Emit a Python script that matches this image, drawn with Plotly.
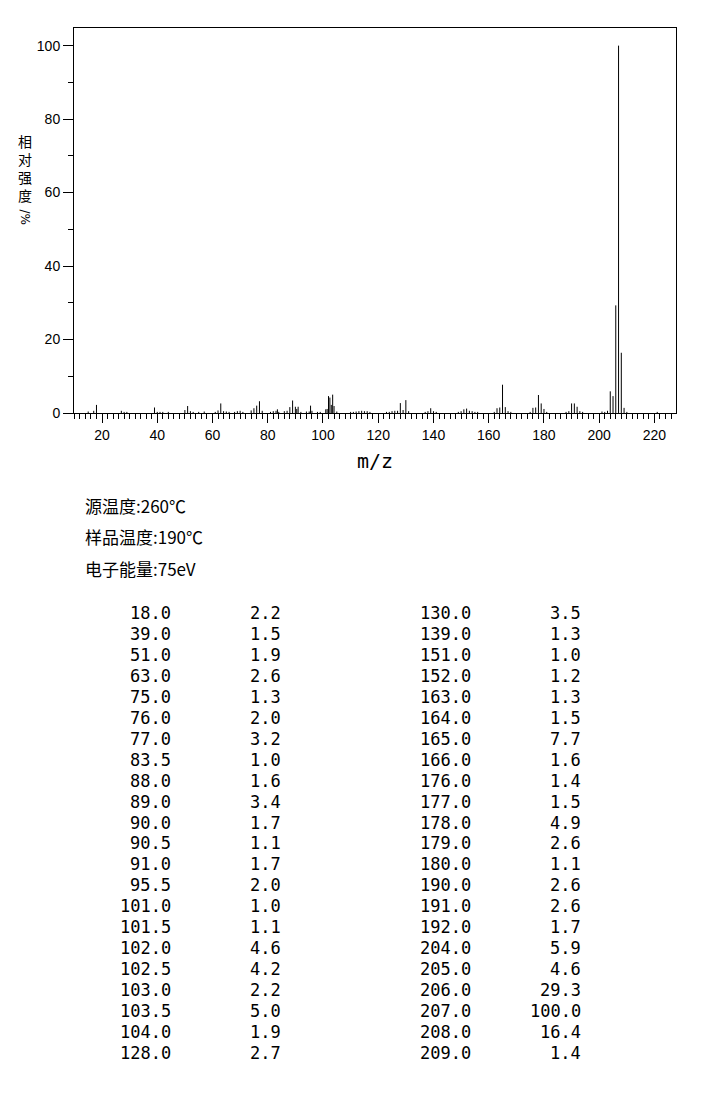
import plotly.graph_objects as go

# peaks listed in the table (m/z, relative intensity %)
table_mz = [18.0, 39.0, 51.0, 63.0, 75.0, 76.0, 77.0, 83.5, 88.0, 89.0, 90.0,
            90.5, 91.0, 95.5, 101.0, 101.5, 102.0, 102.5, 103.0, 103.5, 104.0, 128.0,
            130.0, 139.0, 151.0, 152.0, 163.0, 164.0, 165.0, 166.0, 176.0, 177.0, 178.0,
            179.0, 180.0, 190.0, 191.0, 192.0, 204.0, 205.0, 206.0, 207.0, 208.0, 209.0]
table_int = [2.2, 1.5, 1.9, 2.6, 1.3, 2.0, 3.2, 1.0, 1.6, 3.4, 1.7,
             1.1, 1.7, 2.0, 1.0, 1.1, 4.6, 4.2, 2.2, 5.0, 1.9, 2.7,
             3.5, 1.3, 1.0, 1.2, 1.3, 1.5, 7.7, 1.6, 1.4, 1.5, 4.9,
             2.6, 1.1, 2.6, 2.6, 1.7, 5.9, 4.6, 29.3, 100.0, 16.4, 1.4]

# small peaks (< 1 %)
minor_mz = [15, 17, 27, 28, 29, 40, 41, 42, 44, 50, 52, 53, 55, 57, 61, 62, 64, 65,
            66, 68, 69, 70, 71, 74, 78, 81, 82, 83, 84, 86, 87, 92, 94, 95, 96, 98,
            99, 105, 110, 111, 112, 113, 114, 115, 116, 117, 123, 124, 125, 126, 127,
            129, 131, 137, 138, 140, 141, 149, 150, 153, 154, 155, 156, 162, 167, 168,
            175, 181, 188, 189, 193, 194, 201, 202, 203, 210, 221]
minor_int = [0.4, 0.6, 0.6, 0.3, 0.3, 0.3, 0.3, 0.3, 0.3, 0.8, 0.5, 0.3, 0.3, 0.4, 0.3, 0.7, 0.5, 0.4,
             0.3, 0.3, 0.5, 0.6, 0.3, 0.7, 0.6, 0.3, 0.5, 0.6, 0.3, 0.5, 0.6, 0.3, 0.4, 0.4, 0.6, 0.3,
             0.3, 0.4, 0.3, 0.3, 0.4, 0.5, 0.6, 0.5, 0.5, 0.3, 0.3, 0.3, 0.5, 0.6, 0.6,
             0.8, 0.5, 0.3, 0.5, 0.5, 0.3, 0.3, 0.5, 0.6, 0.5, 0.3, 0.3, 0.3, 0.5, 0.3,
             0.3, 0.3, 0.3, 0.5, 0.5, 0.3, 0.4, 0.3, 0.6, 0.3, 0.3]

conditions = ["源温度:260℃", "样品温度:190℃", "电子能量:75eV"]
y_title_chars = ["相", "对", "强", "度"]
y_title_unit = "/%"
x_title = "m/z"

# plot box in pixels
W, H = 702, 1116
L, R, T, B = 74, 676, 28, 413


def to_paper(px, py):
    return (px - L) / (R - L), (B - py) / (B - T)


# stick spectrum
xs, ys = [], []
for m, v in zip(table_mz + minor_mz, table_int + minor_int):
    xs += [m, m, None]
    ys += [0, v, None]

fig = go.Figure()
fig.add_trace(go.Scatter(x=xs, y=ys, mode="lines", line=dict(color="black", width=1),
                         hoverinfo="skip", showlegend=False))

tick_font = dict(family="Liberation Sans", size=14, color="black")
fig.update_xaxes(range=[9.86, 227.8], tickmode="linear", tick0=0, dtick=20,
                 ticks="outside", ticklen=9, tickcolor="black", tickwidth=1,
                 minor=dict(ticks="outside", tick0=0, dtick=2, ticklen=5, tickcolor="black"),
                 showline=True, linecolor="black", linewidth=1, mirror=True,
                 showgrid=False, zeroline=False, tickfont=tick_font)
fig.update_yaxes(range=[0, 104.8], tickmode="linear", tick0=0, dtick=20,
                 ticks="outside", ticklen=10, tickcolor="black", tickwidth=1,
                 minor=dict(ticks="outside", tick0=0, dtick=10, ticklen=5, tickcolor="black"),
                 showline=True, linecolor="black", linewidth=1, mirror=True,
                 showgrid=False, zeroline=False, tickfont=tick_font)

ann = []
# y axis title, stacked characters
for i, ch in enumerate(y_title_chars):
    x, y = to_paper(25, 140.5 + i * 18.3)
    ann.append(dict(x=x, y=y, text=ch, font=dict(family="Noto Sans CJK SC", size=14, color="black")))
x, y = to_paper(25, 207)
ann.append(dict(x=x, y=y, text=y_title_unit, textangle=90, yanchor="top",
                font=dict(family="DejaVu Sans", size=12, color="black")))

# x axis title
x, y = to_paper(375, 461)
ann.append(dict(x=x, y=y, text=x_title, font=dict(family="DejaVu Sans Mono", size=20, color="black")))

# measurement conditions
for i, line in enumerate(conditions):
    x, y = to_paper(83, 505 + i * 31.5)
    ann.append(dict(x=x, y=y, text=line, xanchor="left",
                    font=dict(family="Noto Sans CJK SC", size=17, color="black")))

# peak table, two column groups
n_rows = (len(table_mz) + 1) // 2
mono = dict(family="DejaVu Sans Mono", size=17, color="black")
for i, (m, v) in enumerate(zip(table_mz, table_int)):
    grp, row = divmod(i, n_rows)
    py = 613 + row * 20.95
    xm, y = to_paper(173 + grp * 300, py)
    xv, _ = to_paper(283 + grp * 300, py)
    ann.append(dict(x=xm, y=y, text=f"{m:.1f}", xanchor="right", font=mono))
    ann.append(dict(x=xv, y=y, text=f"{v:.1f}", xanchor="right", font=mono))

for a in ann:
    a.update(xref="paper", yref="paper", showarrow=False, yanchor=a.get("yanchor", "middle"))
    a.setdefault("xanchor", "center")

fig.update_layout(width=W, height=H, margin=dict(l=L, r=W - R, t=T, b=H - B, pad=0),
                  plot_bgcolor="white", paper_bgcolor="white", annotations=ann)

fig.write_html("out.html", config={"displayModeBar": False},
               post_script="document.body.style.margin='0px';")
